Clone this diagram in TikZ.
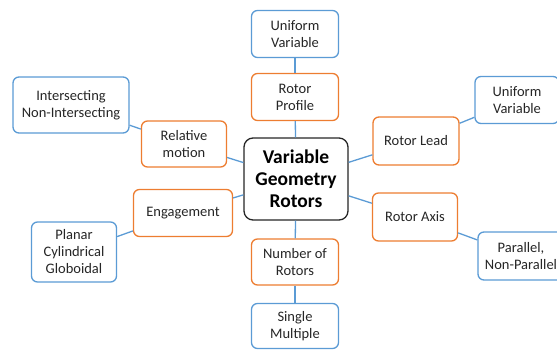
\documentclass[tikz,border=0pt]{standalone}
\usepackage{fontspec}
\setmainfont{Carlito}
\definecolor{oBorder}{HTML}{ED7D31}
\definecolor{bBorder}{HTML}{5B9BD5}
\begin{document}
\begin{tikzpicture}[x=1pt,y=-1pt,
  base/.style={rounded corners=6pt, line width=1.3pt, fill=white, align=center, inner sep=0pt,
     font=\fontsize{14.5}{17}\selectfont, text=black!85},
  obox/.style={base, draw=oBorder},
  bbox/.style={base, draw=bBorder},
  mainbox/.style={base, draw=black!85, rounded corners=9pt, font=\bfseries\fontsize{19.5}{22}\selectfont, text=black},
  link/.style={draw=bBorder, line width=1.3pt}]
\useasboundingbox (0,0) rectangle (557,349);
\node[mainbox, minimum width=104pt, minimum height=82pt] (c) at (296,179) {Variable\\Geometry\\Rotors};
\node[bbox, minimum width=87pt, minimum height=47pt] (u1) at (295,34) {Uniform\\Variable};
\node[obox, minimum width=87pt, minimum height=47pt] (rp) at (295,97) {Rotor\\Profile};
\node[obox, minimum width=86pt, minimum height=48pt] (rl) at (416,141) {Rotor Lead};
\node[bbox, minimum width=84pt, minimum height=47pt] (u2) at (517,100) {Uniform\\Variable};
\node[bbox, minimum width=116pt, minimum height=56pt] (is) at (71,105) {Intersecting\\Non-Intersecting};
\node[obox, minimum width=85pt, minimum height=46pt] (rm) at (184,144) {Relative\\motion};
\node[obox, minimum width=99pt, minimum height=47pt] (en) at (183,213) {Engagement};
\node[bbox, minimum width=85pt, minimum height=60pt] (pl) at (74,252) {Planar\\Cylindrical\\Globoidal};
\node[obox, minimum width=87pt, minimum height=46pt] (nr) at (295,262) {Number of\\Rotors};
\node[bbox, minimum width=87pt, minimum height=45pt] (sm) at (295,326) {Single\\Multiple};
\node[obox, minimum width=85pt, minimum height=48pt] (ra) at (415,217) {Rotor Axis};
\node[bbox, minimum width=86pt, minimum height=48pt] (pa) at (521,256) {Parallel,\\Non-Parallel};
\draw[link] (c) -- (rp);
\draw[link] (rp) -- (u1);
\draw[link] (c) -- (rl);
\draw[link] (rl) -- (u2);
\draw[link] (c) -- (rm);
\draw[link] (rm) -- (is);
\draw[link] (c) -- (en);
\draw[link] (en) -- (pl);
\draw[link] (c) -- (nr);
\draw[link] (nr) -- (sm);
\draw[link] (c) -- (ra);
\draw[link] (ra) -- (pa);
\end{tikzpicture}
\end{document}
